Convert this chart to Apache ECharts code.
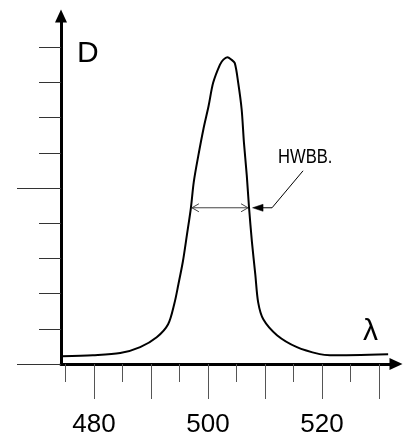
<!DOCTYPE html>
<html>
<head>
<meta charset="utf-8">
<script src="https://cdn.jsdelivr.net/npm/echarts@6/dist/echarts.min.js"></script>
<style>
  html, body { margin: 0; padding: 0; background: #fff; }
  #chart { width: 405px; height: 438px; }
</style>
</head>
<body>
<div id="chart"></div>
<script>
// Absorption band: optical density D against wavelength λ (nm)
const wavelength = [474.4, 479.8, 484.6, 488.1, 491.0, 493.0, 494.1, 494.8, 495.6, 496.3,
  497.0, 497.5, 498.3, 499.2, 500.1, 500.9, 502.1, 502.7, 503.4, 504.1,
  504.7, 505.3, 505.9, 506.3, 506.8, 507.2, 507.7, 508.3, 508.8, 509.7,
  512.1, 515.6, 519.6, 521.4, 531.6];
const density = [0.22, 0.25, 0.31, 0.48, 0.76, 1.13, 1.72, 2.26, 2.92, 3.67,
  4.44, 5.17, 5.92, 6.68, 7.33, 7.99, 8.51, 8.65, 8.72, 8.65,
  8.55, 7.99, 7.24, 6.30, 5.36, 4.44, 3.48, 2.54, 1.75, 1.27,
  0.82, 0.48, 0.28, 0.25, 0.28];

// Axis ticks and labels
const xMajorTicks = [480, 490, 500, 510, 520, 530];
const xMinorTicks = [475, 485, 495, 505, 515, 525];
const xLabels = [480, 500, 520];
const yMinorTicks = [1, 2, 3, 4, 6, 7, 8, 9];
const yMajorTicks = [0, 5];

// Level at which the band width is marked
const hwbbLevel = 4.44;
const hwbbText = 'HWBB.';

const xMin = 474.21, xMax = 532.98;
const yMin = 0, yMax = 9.89;

// Crossings of the curve with the marked level, interpolated from the data
function crossings(level) {
  const out = [];
  for (let i = 1; i < wavelength.length; i++) {
    const a = density[i - 1] - level, b = density[i] - level;
    if (a === 0) out.push(wavelength[i - 1]);
    else if (a * b < 0 || b === 0) {
      const t = a / (a - b);
      out.push(wavelength[i - 1] + t * (wavelength[i] - wavelength[i - 1]));
    }
  }
  return out;
}
const cross = crossings(hwbbLevel);
const hwbbLeft = cross[0], hwbbRight = cross[cross.length - 1];

const chart = echarts.init(document.getElementById('chart'), null, { renderer: 'canvas' });

const baseX = { type: 'value', min: xMin, max: xMax, position: 'bottom', splitLine: { show: false } };
const baseY = { type: 'value', min: yMin, max: yMax, position: 'left', splitLine: { show: false } };

chart.setOption({
  animation: false,
  backgroundColor: '#fff',
  grid: { left: 61, right: 9, top: 16, bottom: 71, containLabel: false },
  xAxis: [
    Object.assign({}, baseX, {
      axisLine: { show: true, onZero: false, symbol: ['none', 'triangle'], symbolSize: [12, 13],
        lineStyle: { color: '#000', width: 3 } },
      axisTick: { show: true, customValues: xMajorTicks, length: 35, lineStyle: { color: '#555', width: 1 } },
      axisLabel: { show: true, customValues: xLabels, margin: 48, color: '#000', fontSize: 26,
        fontFamily: 'Liberation Sans, Arial, sans-serif' }
    }),
    Object.assign({}, baseX, {
      axisLine: { show: false },
      axisTick: { show: true, customValues: xMinorTicks, length: 18, lineStyle: { color: '#555', width: 1 } },
      axisLabel: { show: false }
    })
  ],
  yAxis: [
    Object.assign({}, baseY, {
      axisLine: { show: true, onZero: false, symbol: ['none', 'triangle'], symbolSize: [12, 13],
        lineStyle: { color: '#000', width: 3 } },
      axisTick: { show: true, customValues: yMinorTicks, length: 22, lineStyle: { color: '#333', width: 1 } },
      axisLabel: { show: false }
    }),
    Object.assign({}, baseY, {
      axisLine: { show: false },
      axisTick: { show: true, customValues: yMajorTicks, length: 44, lineStyle: { color: '#333', width: 1 } },
      axisLabel: { show: false }
    })
  ],
  series: [
    {
      type: 'line',
      xAxisIndex: 0,
      yAxisIndex: 0,
      data: wavelength.map((w, i) => [w, density[i]]),
      showSymbol: false,
      smooth: 0.3,
      lineStyle: { color: '#000', width: 2 },
      z: 5
    },
    {
      // Band-width marker with its callout
      type: 'custom',
      xAxisIndex: 0,
      yAxisIndex: 0,
      clip: false,
      data: [[hwbbRight, hwbbLevel]],
      renderItem: function (params, api) {
        const pl = api.coord([hwbbLeft, hwbbLevel]);
        const pr = api.coord([hwbbRight, hwbbLevel]);
        const y = pl[1];
        const head = 7, half = 4;
        const thin = { stroke: '#444', lineWidth: 1, fill: null };
        return {
          type: 'group',
          children: [
            { type: 'line', shape: { x1: pl[0] + 1, y1: y, x2: pr[0] - 1, y2: y }, style: thin },
            { type: 'polyline', shape: { points: [[pl[0] + 1 + head, y - half], [pl[0] + 1, y], [pl[0] + 1 + head, y + half]] }, style: thin },
            { type: 'polyline', shape: { points: [[pr[0] - 1 - head, y - half], [pr[0] - 1, y], [pr[0] - 1 - head, y + half]] }, style: thin },
            { type: 'polygon', shape: { points: [[pr[0] + 3.5, y], [pr[0] + 14, y - 3.5], [pr[0] + 14, y + 3.5]] },
              style: { fill: '#000', stroke: '#000', lineWidth: 0.5 } },
            { type: 'polyline', shape: { points: [[pr[0] + 13, y], [pr[0] + 23, y], [pr[0] + 54, y - 37]] },
              style: { stroke: '#000', lineWidth: 1, fill: null } },
            { type: 'text', x: pr[0] + 29, y: y - 50, scaleX: 0.83,
              style: { text: hwbbText, fill: '#000', font: '20px "Liberation Sans", Arial, sans-serif',
                align: 'left', verticalAlign: 'middle' } }
          ]
        };
      },
      z: 6
    }
  ],
  graphic: [
    { type: 'text', left: 77, top: 39,
      style: { text: 'D', fill: '#000', font: '30px "Liberation Sans", Arial, sans-serif' } },
    { type: 'text', left: 363, top: 317,
      style: { text: 'λ', fill: '#000', font: '30px "Liberation Sans", Arial, sans-serif' } }
  ]
});
</script>
</body>
</html>
